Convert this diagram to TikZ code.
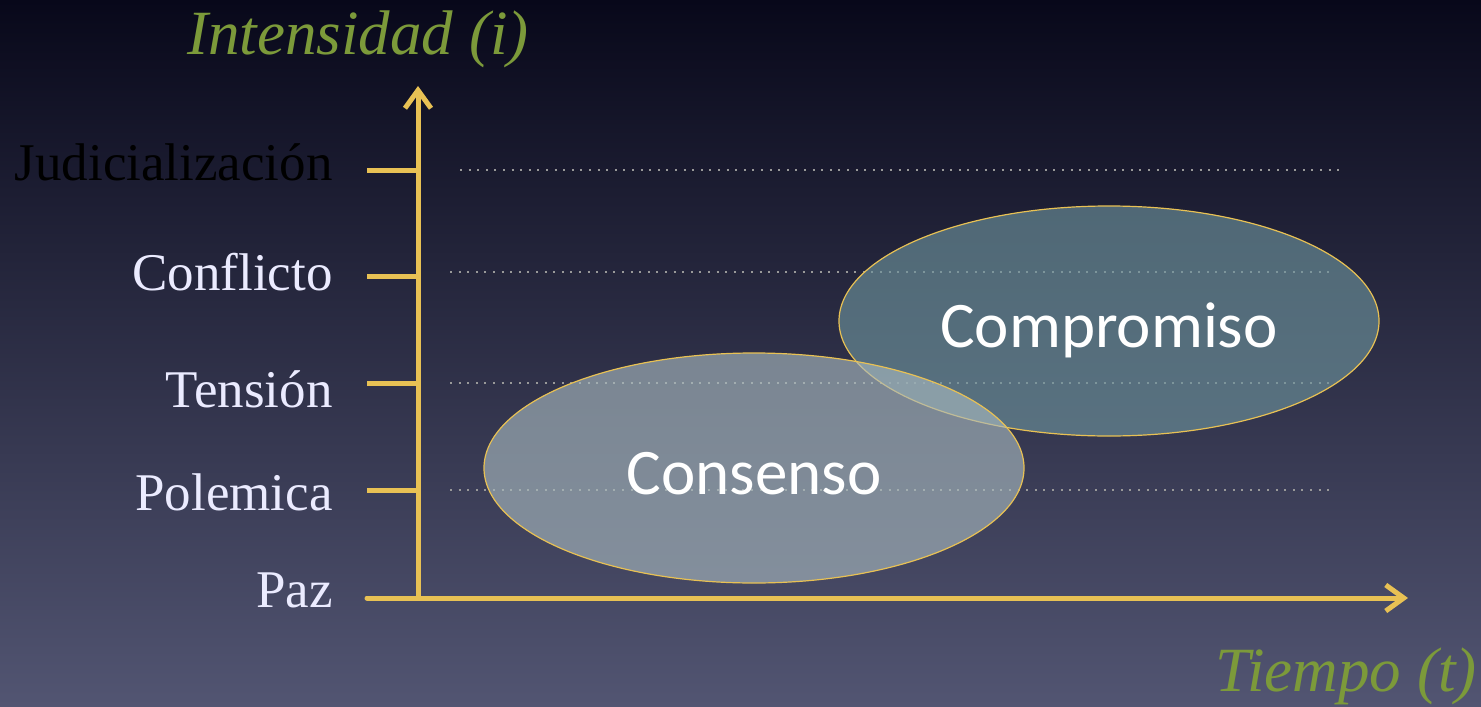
\documentclass[tikz,border=0pt]{standalone}
\usepackage{fontspec}
\setmainfont{Liberation Serif}
\newfontfamily\globofont{Carlito}
\usepackage{tikz}
\usetikzlibrary{positioning,shapes.geometric,arrows.meta}
\definecolor{oro}{HTML}{E8C154}
\definecolor{oliva}{HTML}{7C9A3A}
\definecolor{fondoA}{HTML}{08081A}
\definecolor{fondoB}{HTML}{2D2A4A}
\definecolor{fondoC}{HTML}{525572}
\definecolor{consC}{HTML}{A8B9BF}
\definecolor{compC}{HTML}{6E949D}
\tikzset{eje/.style={line width=2.5pt,draw=oro,line cap=round},
  punteada/.style={line width=1pt,draw=gray!80,dash pattern=on 1pt off 3.3pt},
  nivel/.style={text=white!92!blue,font=\fontsize{26.5}{30}\selectfont,inner sep=0pt,anchor=base east},
  titulo/.style={text=oliva,font=\fontsize{31.5}{34}\selectfont\itshape,inner sep=0pt},
  globo/.style={ellipse,draw=oro,line width=0.6pt,fill opacity=0.63,text opacity=1,
    minimum width=270pt,minimum height=115pt,text=white,text depth=0pt,text height=26pt,
    font=\globofont\fontsize{32.5}{36}\selectfont}}
\begin{document}
\begin{tikzpicture}[x=0.5pt,y=-0.5pt]
 \useasboundingbox (0,0) rectangle (1481,706);
 \shade[top color=fondoA,middle color=fondoB,bottom color=fondoC] (0,0) rectangle (1481,706);
% titulos de los ejes
 \node[titulo,anchor=base west] (ti) at (187,55) {Intensidad (i)};
 \node[titulo,anchor=base east] (tt) at (1477,691) {Tiempo (t)};
% niveles
 \node[nivel,text=black] (lj) at (333,180) {Judicialización};
 \node[nivel] (lc) at (333,290) {Conflicto};
 \node[nivel] (lt) at (333,407) {Tensión};
 \node[nivel] (lp) at (333,510) {Polemica};
 \node[nivel] (lz) at (333,607) {Paz};
% lineas guia
 \coordinate (gj0) at (460,170); \coordinate (gj1) at (1343,170);
 \draw[punteada] (gj0) -- (gj1);
 \foreach \y/\n in {272/c,383/t,490/p}{
   \coordinate (g\n0) at (450,\y); \coordinate (g\n1) at (1333,\y);
   \draw[punteada] (g\n0) -- (g\n1);
 }
% marcas
 \foreach \y/\n in {170/j,276/c,383/t,490/p}{
   \coordinate (k\n) at (367,\y); \coordinate (a\n) at (418,\y);
   \draw[eje,line cap=butt] (k\n) -- (a\n);
 }
% ejes
 \coordinate (o) at (418,598);
 \coordinate (x0) at (367,598);
 \coordinate (ytip) at (418,86);
 \coordinate (xtip) at (1408,598);
 \draw[eje,-{Straight Barb[length=9pt,width=13pt]}] (o) -- (ytip);
 \draw[eje,-{Straight Barb[length=9pt,width=13pt]}] (x0) -- (xtip);
% globos
 \node[globo,fill=compC] (comp) at (1109,321) {Compromiso};
 \node[globo,fill=consC] (cons) at (754,468) {Consenso};
\end{tikzpicture}
\end{document}
